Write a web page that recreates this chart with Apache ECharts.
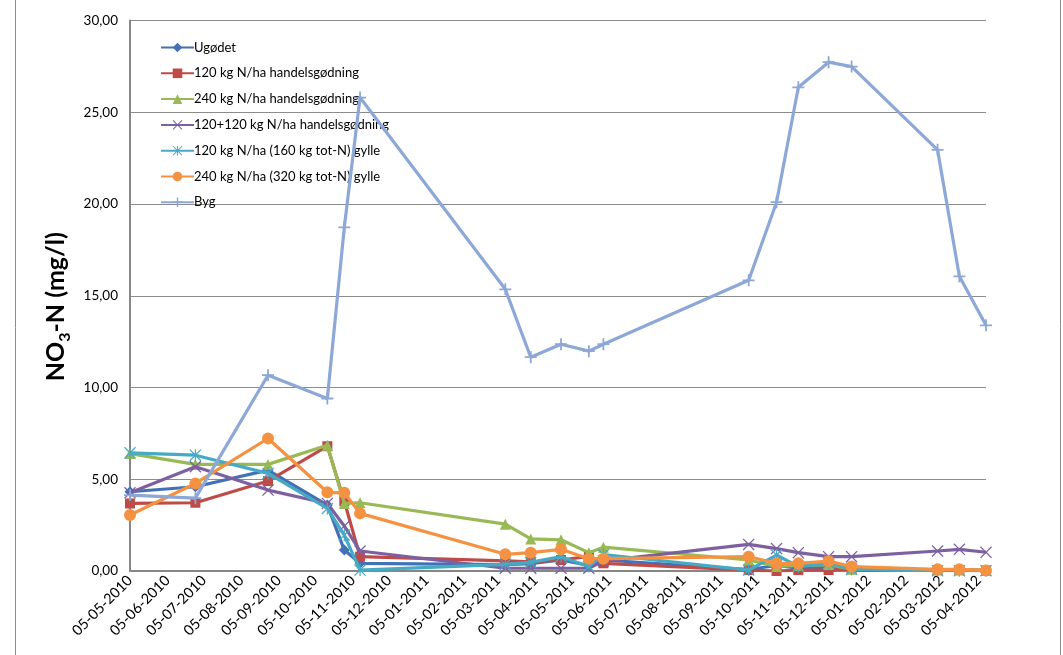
<!DOCTYPE html>
<html>
<head>
<meta charset="utf-8">
<script src="https://cdn.jsdelivr.net/npm/echarts@6/dist/echarts.min.js"></script>
<style>
  html, body { margin: 0; padding: 0; background: #ffffff; }
  #chart { width: 1063px; height: 655px; }
</style>
</head>
<body>
<div id="chart"></div>
<script>
// Sampling dates (one per measurement round)
const sampleDates = [
  '2010-05-05', '2010-06-28', '2010-08-27', '2010-10-15', '2010-10-29', '2010-11-11',
  '2011-03-11', '2011-04-01', '2011-04-26', '2011-05-19', '2011-05-31',
  '2011-09-28', '2011-10-21', '2011-11-08', '2011-12-03', '2011-12-22',
  '2012-03-02', '2012-03-20', '2012-04-11'
];

// NO3-N concentrations (mg/l) per treatment
const ugodet      = [4.32, 4.59, 5.50, 3.59, 1.14, 0.42, 0.35, 0.40, 0.60, 0.30, 0.60, 0.08, 0.30, 0.15, 0.20, 0.05, 0.05, 0.05, 0.03];
const handel120   = [3.68, 3.72, 4.90, 6.80, 3.80, 0.78, 0.55, 0.50, 0.60, 0.80, 0.42, 0.05, 0.00, 0.05, 0.05, 0.10, 0.05, 0.05, 0.03];
const handel240   = [6.40, 5.81, 5.81, 6.85, 3.68, 3.72, 2.55, 1.75, 1.70, 1.00, 1.30, 0.60, 0.25, 0.30, 0.35, 0.10, 0.05, 0.05, 0.03];
const handel120x2 = [4.26, 5.68, 4.41, 3.68, 2.45, 1.09, 0.15, 0.15, 0.15, 0.15, 0.55, 1.45, 1.22, 1.00, 0.78, 0.78, 1.09, 1.18, 1.02];
const gylle120    = [6.44, 6.31, 5.32, 3.41, 1.95, 0.05, 0.36, 0.47, 0.78, 0.24, 0.90, 0.05, 0.87, 0.24, 0.42, 0.10, 0.02, 0.02, 0.02];
const gylle240    = [3.05, 4.77, 7.22, 4.29, 4.26, 3.14, 0.91, 1.00, 1.18, 0.67, 0.67, 0.78, 0.42, 0.42, 0.54, 0.24, 0.09, 0.09, 0.03];
const byg         = [4.14, 3.97, 10.67, 9.40, 18.73, 25.80, 15.35, 11.65, 12.36, 11.98, 12.36, 15.84, 20.10, 26.36, 27.73, 27.49, 22.95, 16.06, 13.39];

// Series names
const seriesNames = [
  'Ugødet',
  '120 kg N/ha handelsgødning',
  '240 kg N/ha handelsgødning',
  '120+120 kg N/ha handelsgødning',
  '120 kg N/ha (160 kg tot-N) gylle',
  '240 kg N/ha (320 kg tot-N) gylle',
  'Byg'
];

// Monthly x-axis tick labels
const monthTicks = [
  '05-05-2010', '05-06-2010', '05-07-2010', '05-08-2010', '05-09-2010', '05-10-2010',
  '05-11-2010', '05-12-2010', '05-01-2011', '05-02-2011', '05-03-2011', '05-04-2011',
  '05-05-2011', '05-06-2011', '05-07-2011', '05-08-2011', '05-09-2011', '05-10-2011',
  '05-11-2011', '05-12-2011', '05-01-2012', '05-02-2012', '05-03-2012', '05-04-2012'
];

// Y-axis ticks
const yTicks = [0, 5, 10, 15, 20, 25, 30];

const FONT = 'Lato, "Liberation Sans", sans-serif';
const DAY = 86400000;

// Dates are turned into whole day numbers (UTC) for a linear value axis
function dayNum(y, m, d) { return Math.round(Date.UTC(y, m - 1, d) / DAY); }
function parseDmy(s) { const p = s.split('-').map(Number); return dayNum(p[2], p[1], p[0]); }
function parseYmd(s) { const p = s.split('-').map(Number); return dayNum(p[0], p[1], p[2]); }
function pad(n) { return (n < 10 ? '0' : '') + n; }

const tickValues = monthTicks.map(parseDmy);
const xDays = sampleDates.map(parseYmd);

// Marker shapes
const plusPath = 'path://M8.5,0H11.5V8.5H20V11.5H11.5V20H8.5V11.5H0V8.5H8.5Z';
const crossPath = 'path://M0,1.5L1.5,0L10,8.5L18.5,0L20,1.5L11.5,10L20,18.5L18.5,20L10,11.5L1.5,20L0,18.5L8.5,10Z';
const starPath = 'path://M0,1.5L1.5,0L10,8.5L18.5,0L20,1.5L11.5,10L20,18.5L18.5,20L10,11.5L1.5,20L0,18.5L8.5,10ZM9,0H11V20H9Z';

const defs = [
  { values: ugodet,      color: '#4271B5', symbol: 'diamond', size: 11 },
  { values: handel120,   color: '#BE4B48', symbol: 'rect',    size: 10 },
  { values: handel240,   color: '#98B954', symbol: 'triangle',size: 11 },
  { values: handel120x2, color: '#7D60A0', symbol: crossPath, size: 12 },
  { values: gylle120,    color: '#46AAC5', symbol: starPath,  size: 12 },
  { values: gylle240,    color: '#F59242', symbol: 'circle',  size: 12 },
  { values: byg,         color: '#8DA8D7', symbol: plusPath,  size: 12 }
];

const series = defs.map((d, i) => ({
  name: seriesNames[i],
  type: 'line',
  data: xDays.map((t, k) => [t, d.values[k]]),
  symbol: d.symbol,
  symbolSize: d.size,
  showAllSymbol: true,
  color: d.color,
  itemStyle: { color: d.color },
  lineStyle: { color: d.color, width: 3.2 },
  z: 2 + i,
  emphasis: { disabled: true }
}));

const chart = echarts.init(document.getElementById('chart'), null, { renderer: 'canvas' });

chart.setOption({
  animation: false,
  backgroundColor: '#ffffff',
  textStyle: { fontFamily: FONT },
  grid: { left: 130, right: 77, top: 20.5, bottom: 84, containLabel: false },
  legend: {
    orient: 'vertical',
    left: 155,
    top: 36,
    itemWidth: 33,
    itemHeight: 12,
    itemGap: 12.8,
    textStyle: { fontFamily: FONT, fontSize: 13, color: '#000000', padding: [0, 0, 0, -5] },
    data: seriesNames
  },
  xAxis: {
    type: 'value',
    min: xDays[0],
    max: xDays[xDays.length - 1],
    axisLine: { show: true, onZero: false, lineStyle: { color: '#868686', width: 2 } },
    axisTick: { show: false },
    splitLine: { show: false },
    axisLabel: {
      customValues: tickValues,
      rotate: 45,
      margin: 7,
      fontFamily: FONT,
      fontSize: 14.5,
      color: '#000000',
      formatter: function (v) {
        const d = new Date(v * DAY);
        return pad(d.getUTCDate()) + '-' + pad(d.getUTCMonth() + 1) + '-' + d.getUTCFullYear();
      }
    }
  },
  yAxis: {
    type: 'value',
    min: yTicks[0],
    max: yTicks[yTicks.length - 1],
    interval: 5,
    axisLine: { show: true, lineStyle: { color: '#868686', width: 2 } },
    axisTick: { show: false },
    splitLine: { show: true, lineStyle: { color: '#8C8C8C', width: 1 } },
    axisLabel: {
      fontFamily: FONT,
      fontSize: 13.5,
      color: '#000000',
      margin: 12,
      formatter: v => v.toFixed(2).replace('.', ',')
    },
    name: '{a|NO}{s|3}{a|-N (mg/l)}',
    nameLocation: 'middle',
    nameGap: 47,
    nameTextStyle: {
      padding: [0, 22, 0, 0],
      rich: {
        a: { fontFamily: FONT, fontSize: 25, fontWeight: 'bold', color: '#000000', lineHeight: 34 },
        s: { fontFamily: FONT, fontSize: 16, fontWeight: 'bold', color: '#000000', lineHeight: 16, verticalAlign: 'bottom' }
      }
    }
  },
  graphic: [
    {
      type: 'rect',
      silent: true,
      shape: { x: 15.5, y: -2, width: 1045, height: 660 },
      style: { fill: null, stroke: '#8C8C8C', lineWidth: 1 }
    }
  ],
  series: series
});
</script>
</body>
</html>
